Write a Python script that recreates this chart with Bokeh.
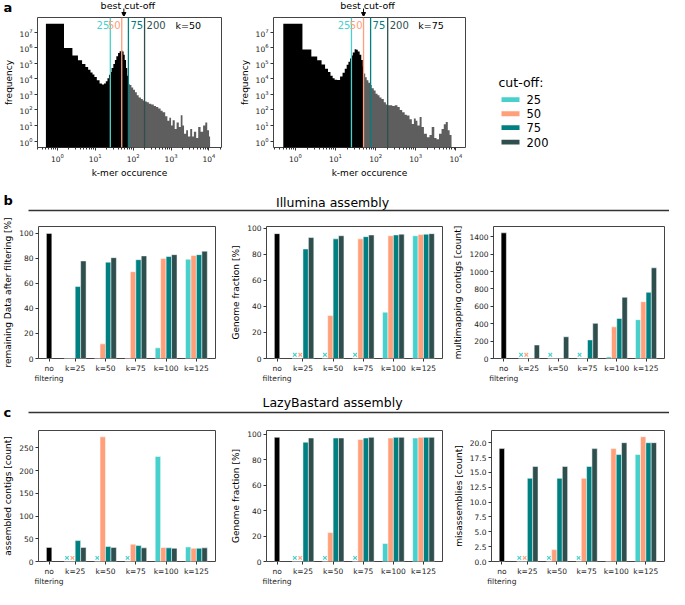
import math
from bokeh.plotting import figure
from bokeh.layouts import column, row
from bokeh.models import (Range1d, FixedTicker, Span, Label, Arrow, NormalHead,
                          PrintfTickFormatter)
from bokeh.embed import file_html
from bokeh.resources import INLINE
from bokeh.core.properties import value

FONT = "DejaVu Sans"

# ---------------- data ----------------
CUTOFFS = [25, 50, 75, 200]
CUT_LABELS = ["25", "50", "75", "200"]
CUT_COLORS = ["#48D1CC", "#FFA07A", "#008080", "#2F4F4F"]

# k-mer occurrence histogram, k=50 (bin edges and frequencies)
K50_EDGES = [0.5, 1.5, 2.5, 3.5, 4.5, 5.5, 6.5, 7.5, 8.5, 9.5,
             11, 13, 15, 17, 19, 21, 23, 25, 27, 30,
             33, 36, 40, 44, 48, 52, 56, 60, 65, 70,
             75, 82, 90, 100, 112, 125, 140, 160, 180, 200,
             230, 260, 300, 350, 400, 460, 530, 600, 700, 800,
             900, 1000, 1100, 1250, 1400, 1600, 1800, 2000, 2200, 2500,
             2800, 3200, 3600, 4000, 4600, 5200, 6000, 7000, 8000, 9000,
             10000, 10700]
K50_COUNTS = [3.5e7, 9.5e5, 3.1e5, 1.55e5, 9.1e4, 5.8e4, 3.8e4, 2.6e4, 1.9e4, 1.3e4,
              8.0e3, 5.0e3, 4.4e3, 5.0e3, 7.1e3, 1.1e4, 1.8e4, 2.8e4, 5.0e4, 8.9e4,
              1.6e5, 2.8e5, 4.5e5, 6.0e5, 6.6e5, 5.6e5, 3.5e5, 1.6e5, 5.0e4, 1.6e4,
              4.5e3, 4.0e3, 2.8e3, 2.0e3, 1.4e3, 900, 630, 500, 400, 355,
              316, 250, 224, 178, 158, 126, 89, 71, 40, 20,
              32, 10, 22, 6, 16, 8, 46, 10, 3, 5,
              2, 6, 2, 4, 1.6, 8, 4, 10, 16, 5,
              2]
K50_BEST = 75

# k-mer occurrence histogram, k=75
K75_EDGES = [0.5, 1.5, 2.5, 3.5, 4.5, 5.5, 6.5, 7.5, 8.5, 9.5,
             11, 13, 15, 17, 19, 21, 23, 25, 27, 30,
             33, 36, 40, 44, 48, 50, 55, 60, 66, 73,
             80, 90, 100, 112, 125, 140, 160, 180, 200, 230,
             260, 300, 350, 400, 460, 530, 600, 700, 800, 900,
             1000, 1100, 1250, 1400, 1600, 1900, 2200, 2500, 2900, 3300,
             3800, 4400, 5000, 5600, 6300, 7000, 7800]
K75_COUNTS = [3.5e7, 7.6e5, 2.7e5, 1.55e5, 8.3e4, 4.5e4, 2.8e4, 1.6e4, 1.1e4, 8.9e3,
              8.5e3, 1.4e4, 2.5e4, 4.5e4, 8.0e4, 1.26e5, 2.0e5, 3.2e5, 5.0e5, 8.0e5,
              7.5e5, 5.6e5, 3.5e5, 1.6e5, 6.3e4, 2.2e4, 1.26e4, 8.0e3, 5.6e3, 4.0e3,
              2.5e3, 1.8e3, 1.1e3, 900, 630, 500, 316, 224, 200, 200,
              178, 200, 158, 100, 71, 50, 45, 25, 12.6, 28,
              20, 10, 35, 8, 3, 1.8, 2.5, 8, 1.6, 1.3,
              3, 6, 12, 17, 5, 2.5]
K75_BEST = 50

X_LABELS = ["no\nfiltering", "k=25", "k=50", "k=75", "k=100", "k=125"]

# b: Illumina assembly
REMAIN_NOFILT = 100
REMAIN_25 = [0, 0, 0, 8.5, 79.3]
REMAIN_50 = [0, 11.7, 69.4, 80, 82.3]
REMAIN_75 = [57.5, 77, 79, 81.5, 83]
REMAIN_200 = [78, 80.6, 82, 83, 85.8]

ILL_GF_NOFILT = 96
ILL_GF_25 = [None, None, None, 35.6, 94.4]
ILL_GF_50 = [None, 33, 92, 94.4, 95.3]
ILL_GF_75 = [84.2, 92, 93.7, 95, 95.6]
ILL_GF_200 = [93, 94.4, 95, 95.6, 96]

ILL_MM_NOFILT = 1445
ILL_MM_25 = [None, None, None, 18, 447]
ILL_MM_50 = [None, 0, 0, 364, 654]
ILL_MM_75 = [0, 0, 214, 460, 761]
ILL_MM_200 = [155, 250, 404, 704, 1043]

# c: LazyBastard assembly
LB_CONTIGS_NOFILT = 31
LB_CONTIGS_25 = [None, None, None, 231, 32]
LB_CONTIGS_50 = [None, 274, 38, 31, 29]
LB_CONTIGS_75 = [46, 33, 35, 30, 29]
LB_CONTIGS_200 = [31, 31, 30, 29, 30]

LB_GF_NOFILT = 97.5
LB_GF_25 = [None, None, None, 14.2, 97]
LB_GF_50 = [None, 22.7, 95.9, 97, 97.5]
LB_GF_75 = [93.7, 97, 97, 97.5, 97.5]
LB_GF_200 = [97, 97, 97.5, 97.5, 97.5]

LB_MIS_NOFILT = 19
LB_MIS_25 = [None, None, None, 0, 18]
LB_MIS_50 = [None, 2, 14, 19, 21]
LB_MIS_75 = [14, 14, 16, 18, 20]
LB_MIS_200 = [16, 16, 19, 20, 20]

# ---------------- layout constants ----------------
TOTAL_W = 669
STRIP_H, A_H, HB_H, B_H, HC_H, C_H = 16, 164, 34, 172, 34, 169
A_TOP, A_BOT = 1, 27
Y_LO, Y_HI = 0.39, 8.7e7
X_NOFILT = 0.14
GROUP_X = [1, 2, 3, 4, 5]
OFFSETS = [-0.27, -0.09, 0.09, 0.27]
BAR_W = 0.18
TICK_PX = "7.5px"
LABEL_PX = "9px"

# histogram panels: (figure x offset, figure width, border left, border right, x range)
A1_GEOM = (0, 228, 28, 7, (0.30, 21400))
A2_GEOM = (228, 242, 45, 5, (0.285, 17400))


def no_axes_fig(width, height, xr, yr, top=0, bottom=0):
    p = figure(width=width, height=height, x_range=Range1d(*xr), y_range=Range1d(*yr),
               min_border=0, min_border_top=top, min_border_bottom=bottom,
               x_axis_location=None, y_axis_location=None,
               outline_line_color=None, output_backend="svg", toolbar_location=None)
    p.grid.visible = False
    return p


def style_axes(p):
    for ax in p.axis:
        ax.axis_line_color = None
        ax.major_tick_line_color = "#333333"
        ax.major_tick_out = 3
        ax.major_tick_in = 0
        ax.minor_tick_line_color = None
        ax.major_label_text_font = FONT
        ax.major_label_text_font_size = TICK_PX
        ax.major_label_text_color = "#222222"
        ax.major_label_standoff = 2
        ax.axis_label_text_font = FONT
        ax.axis_label_text_font_size = LABEL_PX
        ax.axis_label_text_font_style = "normal"
        ax.axis_label_text_color = "black"
        ax.axis_label_standoff = 3
    p.outline_line_color = "#444444"
    p.outline_line_width = 1
    p.grid.visible = False


def hist_panel(geom, edges, counts, best, ktxt):
    _, width, left, right, xr = geom
    p = figure(width=width, height=A_H, x_axis_type="log", y_axis_type="log",
               x_range=Range1d(*xr), y_range=Range1d(Y_LO, Y_HI),
               min_border_left=left, min_border_right=right,
               min_border_top=A_TOP, min_border_bottom=A_BOT,
               output_backend="svg", toolbar_location=None)
    n = len(counts)
    blk = [i for i in range(n) if edges[i + 1] <= best]
    gry = [i for i in range(n) if edges[i] >= best]
    for idx, col in ((blk, "black"), (gry, "#5e5e5e")):
        xs = [edges[i] for i in idx] + [edges[idx[-1] + 1]]
        ys = [counts[i] for i in idx] + [counts[idx[-1]]]
        p.varea_step(x=xs, y1=[0.05] * len(xs), y2=ys, step_mode="after",
                     fill_color=col)

    frame_h = A_H - A_TOP - A_BOT
    dec_per_px = (math.log10(Y_HI) - math.log10(Y_LO)) / frame_h
    y_lbl = 10 ** (math.log10(Y_HI) - 8 * dec_per_px)

    aligns = ["right", "right", "left", "left"]
    for c, lab, col, al in zip(CUTOFFS, CUT_LABELS, CUT_COLORS, aligns):
        p.add_layout(Span(location=c, dimension="height", line_color=col, line_width=1.3))
        p.add_layout(Label(x=c, y=y_lbl, text=lab, text_align=al,
                           x_offset=(-1 if al == "right" else 2),
                           text_baseline="middle", text_color=col,
                           text_font=FONT, text_font_size="10px"))
    x_lo, x_hi = xr
    kx = 10 ** (math.log10(x_lo) + 0.82 * (math.log10(x_hi) - math.log10(x_lo)))
    p.add_layout(Label(x=kx, y=y_lbl, text=ktxt, text_align="center",
                       text_baseline="middle", text_color="black",
                       text_font=FONT, text_font_size="9.5px"))

    p.xaxis.ticker = FixedTicker(ticks=[1, 10, 100, 1000, 10000],
                                 minor_ticks=[m * 10 ** d for d in range(-1, 5) for m in range(2, 10)])
    p.yaxis.ticker = FixedTicker(ticks=[10 ** d for d in range(0, 8)])
    p.xaxis.axis_label = "k-mer occurence"
    p.yaxis.axis_label = "frequency"
    style_axes(p)
    p.xaxis.minor_tick_line_color = "#333333"
    p.xaxis.minor_tick_out = 2
    p.xaxis.minor_tick_in = 0
    return p


def best_px(geom, best):
    x0, width, left, right, (lo, hi) = geom
    fw = width - left - right
    return x0 + left + (math.log10(best) - math.log10(lo)) / (math.log10(hi) - math.log10(lo)) * fw


def bar_panel(width, height, left, right, top, bottom, ylabel, ymax, yticks,
              nofilt, series, mark_missing, fmt=None):
    p = figure(width=width, height=height,
               x_range=Range1d(-0.21, 5.63), y_range=Range1d(0, ymax),
               min_border_left=left, min_border_right=right,
               min_border_top=top, min_border_bottom=bottom,
               output_backend="svg", toolbar_location=None)
    p.vbar(x=[X_NOFILT], top=[nofilt], width=BAR_W, fill_color="black",
           line_color="white", line_width=0.5)
    for vals, col, off in zip(series, CUT_COLORS, OFFSETS):
        xs = [g + off for g in GROUP_X]
        tops = [v if v is not None else 0 for v in vals]
        p.vbar(x=xs, top=tops, width=BAR_W, fill_color=col,
               line_color="white", line_width=0.5)
        if mark_missing:
            mx = [x for x, v in zip(xs, vals) if v is None]
            if mx:
                p.scatter(x=mx, y=[ymax * 0.028] * len(mx), marker="x", size=5,
                          line_color=col, line_width=1.2)
    ticks = [X_NOFILT] + GROUP_X
    p.xaxis.ticker = FixedTicker(ticks=ticks)
    p.xaxis.major_label_overrides = {t: lab for t, lab in zip(ticks, X_LABELS)}
    p.yaxis.ticker = FixedTicker(ticks=yticks)
    if fmt:
        p.yaxis.formatter = PrintfTickFormatter(format=fmt)
    p.yaxis.axis_label = ylabel
    style_axes(p)
    return p


def header(height, letter, letter_y, title, title_y, line_y):
    p = no_axes_fig(TOTAL_W, height, (0, TOTAL_W), (height, 0))
    p.text(x=[3], y=[letter_y], text=[letter], text_font=value(FONT),
           text_font_size="13px", text_font_style="bold",
           text_baseline="middle", text_align="left", text_color="black")
    p.text(x=[332], y=[title_y], text=[title], text_font=value(FONT),
           text_font_size="12.5px", text_baseline="middle", text_align="center",
           text_color="black")
    p.segment(x0=[28], y0=[line_y], x1=[TOTAL_W], y1=[line_y],
              line_color="#333333", line_width=1.5)
    return p


# ---------------- strip above row a ("a", best cut-off arrows) ----------------
strip = no_axes_fig(TOTAL_W, STRIP_H, (0, TOTAL_W), (STRIP_H, 0))
strip.text(x=[3], y=[7], text=["a"], text_font=value(FONT), text_font_size="13px",
           text_font_style="bold", text_baseline="middle", text_align="left",
           text_color="black")
for geom, best in ((A1_GEOM, K50_BEST), (A2_GEOM, K75_BEST)):
    bx = best_px(geom, best)
    strip.add_layout(Arrow(end=NormalHead(size=4, fill_color="black", line_color="black"),
                           x_start=bx, y_start=8, x_end=bx, y_end=STRIP_H,
                           line_color="black", line_width=1))
    strip.add_layout(Label(x=bx, y=4.5, x_offset=4, text="best cut-off",
                           text_align="center", text_baseline="middle",
                           text_font=FONT, text_font_size="9.5px", text_color="black"))

# ---------------- row a ----------------
a1 = hist_panel(A1_GEOM, K50_EDGES, K50_COUNTS, K50_BEST, "k=50")
a2 = hist_panel(A2_GEOM, K75_EDGES, K75_COUNTS, K75_BEST, "k=75")

# legend panel; its frame is aligned with the histogram frames, so the y range
# is expressed in pixels from the top of the figure
LEG_W = TOTAL_W - 228 - 242
leg = no_axes_fig(LEG_W, A_H, (0, LEG_W), (A_H - A_BOT, A_TOP), top=A_TOP, bottom=A_BOT)
leg.text(x=[28], y=[69], text=["cut-off:"], text_font=value(FONT),
         text_font_size="12.5px", text_baseline="middle", text_align="left",
         text_color="black")
LEG_Y = [87, 101.7, 116.3, 131.3]
leg.quad(left=[31] * 4, right=[49] * 4, top=[y - 2.5 for y in LEG_Y],
         bottom=[y + 2.5 for y in LEG_Y], fill_color=CUT_COLORS, line_color=None)
leg.text(x=[56] * 4, y=LEG_Y, text=CUT_LABELS, text_font=value(FONT),
         text_font_size="11.5px", text_baseline="middle", text_align="left",
         text_color="black")

# ---------------- row b ----------------
hb = header(HB_H, "b", 20, "Illumina assembly", 22, 30)
b1 = bar_panel(228, B_H, 28, 13, 12, 22, "remaining Data after filtering [%]", 105.5,
               [0, 20, 40, 60, 80, 100], REMAIN_NOFILT,
               [REMAIN_25, REMAIN_50, REMAIN_75, REMAIN_200], False)
b2 = bar_panel(222, B_H, 27, 8, 12, 22, "Genome fraction [%]", 101.5,
               [0, 20, 40, 60, 80, 100], ILL_GF_NOFILT,
               [ILL_GF_25, ILL_GF_50, ILL_GF_75, ILL_GF_200], True)
b3 = bar_panel(219, B_H, 32, 5, 12, 22, "multimapping contigs [count]", 1518,
               [0, 200, 400, 600, 800, 1000, 1200, 1400], ILL_MM_NOFILT,
               [ILL_MM_25, ILL_MM_50, ILL_MM_75, ILL_MM_200], True)

# ---------------- row c ----------------
hc = header(HC_H, "c", 26, "LazyBastard assembly", 16, 26)
c1 = bar_panel(228, C_H, 28, 13, 10, 22, "assembled contigs [count]", 288,
               [0, 50, 100, 150, 200, 250], LB_CONTIGS_NOFILT,
               [LB_CONTIGS_25, LB_CONTIGS_50, LB_CONTIGS_75, LB_CONTIGS_200], True)
c2 = bar_panel(222, C_H, 27, 8, 10, 22, "Genome fraction [%]", 102.9,
               [0, 20, 40, 60, 80, 100], LB_GF_NOFILT,
               [LB_GF_25, LB_GF_50, LB_GF_75, LB_GF_200], True)
c3 = bar_panel(219, C_H, 32, 5, 10, 22, "misassemblies [count]", 22.05,
               [0, 2.5, 5, 7.5, 10, 12.5, 15, 17.5, 20], LB_MIS_NOFILT,
               [LB_MIS_25, LB_MIS_50, LB_MIS_75, LB_MIS_200], True, fmt="%.1f")

layout = column(strip, row(a1, a2, leg), hb, row(b1, b2, b3), hc, row(c1, c2, c3))

open("out.html", "w").write(file_html(layout, INLINE))
